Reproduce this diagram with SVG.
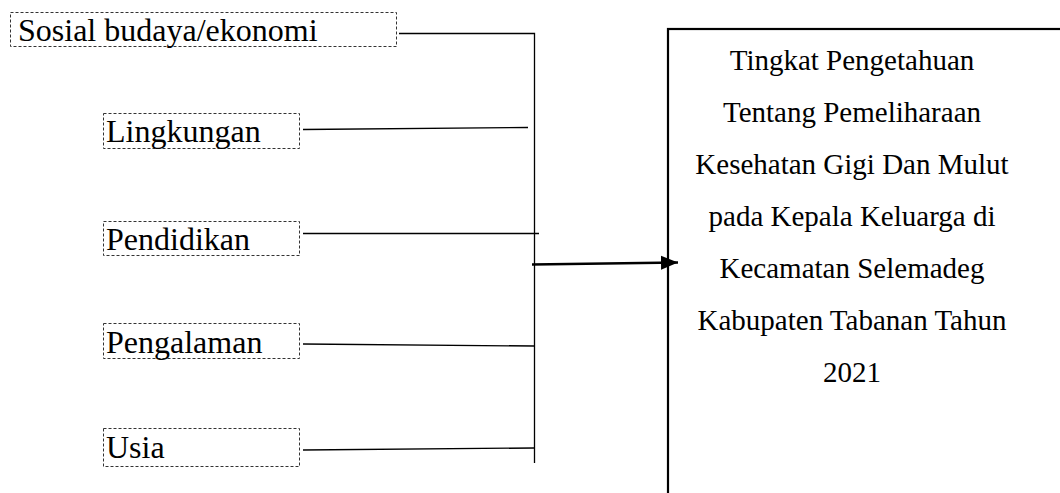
<svg xmlns="http://www.w3.org/2000/svg" width="1060" height="493" viewBox="0 0 1060 493">
<defs>
<style>
.fbox{fill:none;stroke:#333;stroke-width:1;stroke-dasharray:3 2}
.lbl{font-family:'Liberation Serif','Times New Roman',Tinos,'DejaVu Serif',serif;font-size:32px;fill:#000}
.ttl{font-family:'Liberation Serif','Times New Roman',Tinos,'DejaVu Serif',serif;font-size:29px;fill:#000;text-anchor:middle}
.con{stroke:#000;stroke-width:1.3;fill:none}
</style>
<marker id="ah" markerWidth="18" markerHeight="16" refX="17" refY="8" orient="auto" markerUnits="userSpaceOnUse" viewBox="0 0 18 16">
<path d="M0,1 L17,8 L0,15 z" fill="#000"/>
</marker>
</defs>
<rect width="1060" height="493" fill="#fff"/>
<g id="sosial">
<rect class="fbox" x="10.5" y="12.5" width="386" height="34"/>
<text class="lbl" x="18" y="41">Sosial budaya/ekonomi</text>
</g>
<g id="lingkungan">
<rect class="fbox" x="103.5" y="113.5" width="196" height="35"/>
<text class="lbl" x="106" y="142">Lingkungan</text>
</g>
<g id="pendidikan">
<rect class="fbox" x="103.5" y="221.5" width="196" height="34"/>
<text class="lbl" x="106" y="250">Pendidikan</text>
</g>
<g id="pengalaman">
<rect class="fbox" x="103.5" y="323.5" width="196" height="35"/>
<text class="lbl" x="106" y="353">Pengalaman</text>
</g>
<g id="usia">
<rect class="fbox" x="103.5" y="428.5" width="196" height="38"/>
<text class="lbl" x="106" y="458">Usia</text>
</g>
<g id="outcome">
<rect x="668" y="29" width="420" height="480" fill="none" stroke="#000" stroke-width="2.2"/>
<text class="ttl" x="852" y="70">Tingkat Pengetahuan</text>
<text class="ttl" x="852" y="122">Tentang Pemeliharaan</text>
<text class="ttl" x="852" y="174">Kesehatan Gigi Dan Mulut</text>
<text class="ttl" x="852" y="226">pada Kepala Keluarga di</text>
<text class="ttl" x="852" y="278">Kecamatan Selemadeg</text>
<text class="ttl" x="852" y="330">Kabupaten Tabanan Tahun</text>
<text class="ttl" x="852" y="382">2021</text>
</g>
<g id="connectors">
<polyline class="con" points="399,33.5 534.5,33.5 534.5,463"/>
<line class="con" x1="303" y1="129.5" x2="528" y2="127.5"/>
<line class="con" x1="303" y1="233.5" x2="539" y2="233.5"/>
<line class="con" x1="303" y1="344" x2="534" y2="346"/>
<line class="con" x1="303" y1="450" x2="534" y2="448"/>
<line x1="532" y1="264.5" x2="678" y2="262.5" stroke="#000" stroke-width="2.5" marker-end="url(#ah)"/>
</g>
</svg>
